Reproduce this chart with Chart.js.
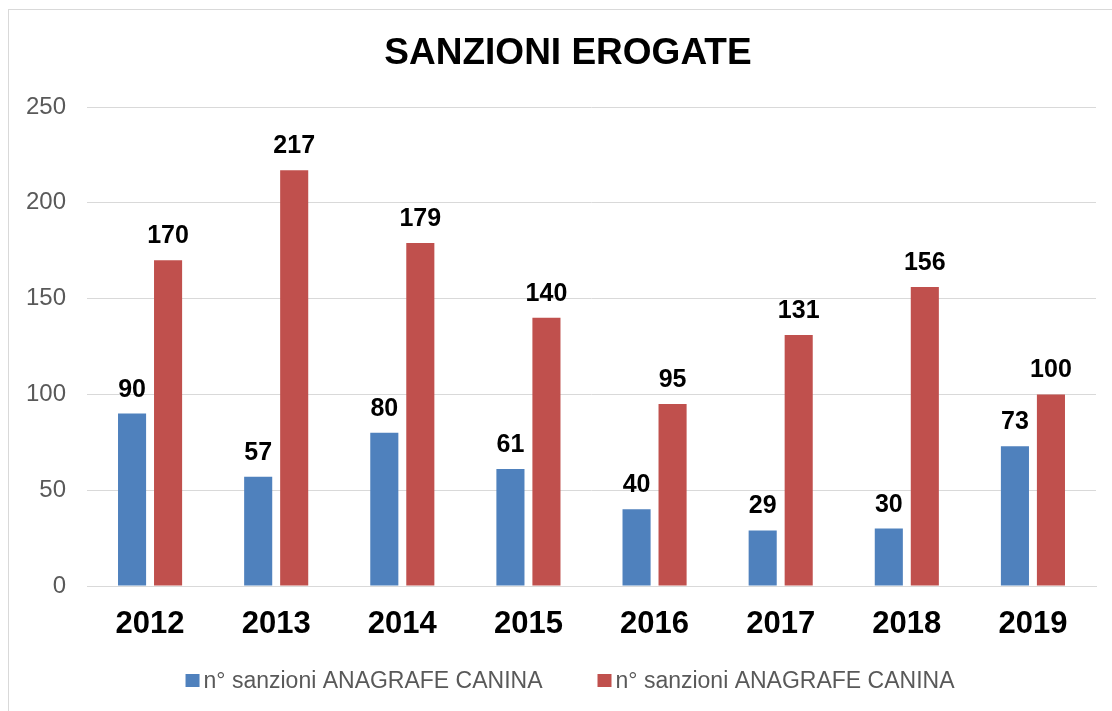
<!DOCTYPE html>
<html>
<head>
<meta charset="utf-8">
<script src="https://cdn.jsdelivr.net/npm/chart.js@4"></script>
<style>
  body { margin: 0; background: #fff; }
  #cornice { position: absolute; left: 8px; top: 9px; width: 1120px; height: 720px; border: 1px solid #d9d9d9; }
  #box { position: absolute; left: 0; top: 0; width: 1112px; height: 711px; }
</style>
</head>
<body>
<div id="cornice"></div>
<div id="box"><canvas id="grafico"></canvas></div>
<script>
// dati
const anni = ['2012', '2013', '2014', '2015', '2016', '2017', '2018', '2019'];
const serieBlu = [90, 57, 80, 61, 40, 29, 30, 73];
const serieRossa = [170, 217, 179, 140, 95, 131, 156, 100];
const tickY = [0, 50, 100, 150, 200, 250];
const etichetta = 'n° sanzioni ANAGRAFE CANINA';
const titolo = 'SANZIONI EROGATE';

const FONT = '"Liberation Sans", Arial, sans-serif';

// etichette sopra le barre
const etichetteDati = {
  id: 'etichetteDati',
  afterDatasetsDraw(chart) {
    const ctx = chart.ctx;
    ctx.save();
    ctx.font = 'bold 25px ' + FONT;
    ctx.fillStyle = '#000';
    ctx.textAlign = 'center';
    ctx.textBaseline = 'alphabetic';
    chart.data.datasets.forEach((ds, i) => {
      chart.getDatasetMeta(i).data.forEach((bar, j) => {
        ctx.fillText(ds.data[j], bar.x, bar.y - 17);
      });
    });
    ctx.restore();
  }
};

// titolo e legenda disegnati a mano (centrati come nell'originale)
const titoloLegenda = {
  id: 'titoloLegenda',
  afterDraw(chart) {
    const ctx = chart.ctx;
    ctx.save();
    ctx.fillStyle = '#000';
    ctx.font = 'bold 37px ' + FONT;
    ctx.textAlign = 'center';
    ctx.textBaseline = 'alphabetic';
    ctx.fillText(titolo, 568, 64);

    ctx.font = '23px ' + FONT;
    ctx.textAlign = 'left';
    const ds = chart.data.datasets;
    const larghezze = ds.map(d => 14 + 4 + ctx.measureText(d.label).width);
    const spazio = 55;
    const totale = larghezze.reduce((a, b) => a + b, 0) + spazio * (ds.length - 1);
    let x = 570 - totale / 2;
    ds.forEach((d, i) => {
      ctx.fillStyle = d.backgroundColor;
      ctx.fillRect(x, 674, 14, 13);
      ctx.fillStyle = '#595959';
      ctx.fillText(d.label, x + 18, 688);
      x += larghezze[i] + spazio;
    });
    ctx.restore();
  }
};

document.addEventListener('DOMContentLoaded', function() {
  const ctx = document.getElementById('grafico').getContext('2d');
  new Chart(ctx, {
    type: 'bar',
    data: {
      labels: anni,
      datasets: [
        { label: etichetta, data: serieBlu, backgroundColor: '#4F81BD', categoryPercentage: 0.571, barPercentage: 0.78 },
        { label: etichetta, data: serieRossa, backgroundColor: '#C0504D', categoryPercentage: 0.571, barPercentage: 0.78 }
      ]
    },
    options: {
      responsive: true,
      maintainAspectRatio: false,
      animation: false,
      layout: { padding: { left: 20, right: 16, top: 107, bottom: 65 } },
      plugins: {
        title: { display: false },
        legend: { display: false },
        tooltip: { enabled: false }
      },
      scales: {
        x: {
          grid: { display: false },
          border: { color: '#d9d9d9' },
          afterFit: (scale) => { scale.height = 60; },
          ticks: {
            color: '#000',
            font: { family: FONT, size: 31, weight: 'bold' },
            padding: 12
          }
        },
        y: {
          min: 0,
          max: 250,
          afterBuildTicks: (scale) => { scale.ticks = tickY.map(v => ({ value: v })); },
          afterFit: (scale) => { scale.width = 67; },
          grid: { color: '#d9d9d9', drawTicks: false },
          border: { display: false },
          ticks: {
            color: '#595959',
            font: { family: FONT, size: 24 },
            padding: 21
          }
        }
      }
    },
    plugins: [etichetteDati, titoloLegenda]
  });
});
</script>
</body>
</html>
